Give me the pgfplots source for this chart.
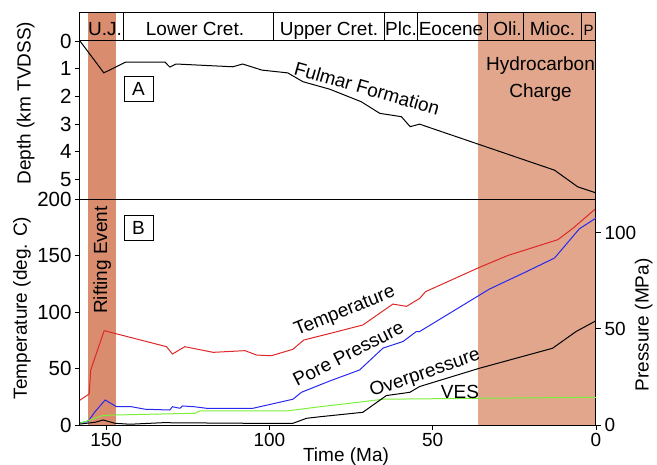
\documentclass[border=0pt]{standalone}
\usepackage{fontspec}
\setmainfont{Liberation Sans}
\usepackage{pgfplots}
\pgfplotsset{compat=1.18}

\definecolor{rift}{RGB}{217,140,110}
\definecolor{hcc}{RGB}{225,166,140}
\definecolor{tempred}{RGB}{222,40,40}
\definecolor{poreblue}{RGB}{40,40,240}
\definecolor{vesgreen}{RGB}{125,240,60}

\newcommand{\lab}{\fontsize{19}{21}\selectfont}
\newcommand{\tck}{\fontsize{20.5}{22}\selectfont}
\newcommand{\tckb}{\fontsize{19}{21}\selectfont}

\begin{document}
\begin{tikzpicture}
\pgfplotsset{
  every axis/.append style={
    scale only axis, x dir=reverse, xmin=0, xmax=158,
    axis line style={line width=1pt},
    tick style={line width=0.8pt, black},
    tick align=outside, major tick length=5pt,
    /pgf/number format/assume math mode=true,
    tick label style={font=\tck},
  },
}

% ---------- panel A: burial depth ----------
\begin{axis}[at={(80pt,-199pt)}, anchor=south west, width=516pt, height=186pt,
  ymin=-1.01, ymax=5.70, y dir=reverse, ytick={0,...,5},
  xtick=\empty, ytick pos=left, axis on top]
\addplot[fill=rift, draw=none] coordinates {(155.6,-1.01) (147,-1.01) (147,5.7) (155.6,5.7)} -- cycle;
\addplot[fill=hcc, draw=none] coordinates {(36,-1.01) (0,-1.01) (0,5.7) (36,5.7)} -- cycle;
% chronostratigraphic strip
\addplot[black, line width=1pt] coordinates {(158,0) (0,0)};
\pgfplotsinvokeforeach{144.8,98.9,64.9,54.8,33.1,22.1,4.6}{
  \addplot[black, line width=0.8pt] coordinates {(#1,-1.01) (#1,0)};
}
% Fulmar Formation burial curve
\addplot[black, line width=1pt] coordinates {
(158,0) (150.7,1.15) (144,0.76) (132,0.76) (130.5,0.94) (128.6,0.83)
(111.2,0.93) (108.2,0.83) (102.3,1.05) (94.4,1.15) (89.7,1.47) (81.5,1.74)
(71.9,2.19) (66.2,2.61) (59.6,2.73) (56.9,3.09) (54,3.0) (12.7,4.66)
(5.6,5.26) (0,5.48)};
\end{axis}

% ---------- panel B: temperature ----------
\begin{axis}[at={(80pt,-425pt)}, anchor=south west, width=516pt, height=226pt,
  ymin=0, ymax=200, ytick={0,50,...,200}, xtick={150,100,50,0},
  ytick pos=left, xtick pos=bottom, axis on top,
  x tick label style={font=\tckb}]
\addplot[fill=rift, draw=none] coordinates {(155.6,0) (147,0) (147,200) (155.6,200)} -- cycle;
\addplot[fill=hcc, draw=none] coordinates {(36,0) (0,0) (0,200) (36,200)} -- cycle;
\addplot[tempred, line width=1pt] coordinates {
(158,22) (155.2,27.4) (154.7,48.7) (150.6,83.5) (131.5,69.3) (129.7,62.8)
(125.9,69.3) (117.2,64.3) (107.5,65.8) (103.9,61.9) (99.4,61.3) (92.8,67)
(89.5,75.2) (81.5,81) (71.4,88.5) (62.2,107) (58,105) (54,112) (52.2,118)
(35.7,139.5) (27,150) (11.7,164) (7.1,174) (0,191.7)};
\end{axis}

% ---------- panel B: pressures ----------
\begin{axis}[at={(80pt,-425pt)}, anchor=south west, width=516pt, height=226pt,
  ymin=0, ymax=117.5, ytick={0,50,100},
  axis y line*=right, axis x line=none,
  y tick label style={font=\tckb}]
\addplot[poreblue, line width=1pt] coordinates {
(158,1.2) (155.6,1.7) (153.4,6.9) (150.3,13) (146.8,9.5) (142.2,9.5)
(138.1,8.2) (130.5,7.8) (129.7,9.5) (127.4,8.7) (126.6,9.9) (123,9.5)
(119.3,8.7) (105,8.7) (92.8,13.4) (90.2,17) (81.5,22.9) (72.4,28.6)
(65.2,40) (59.1,43.4) (55,48.6) (54,48.6) (32.6,70.7) (22.2,79)
(12.7,86.8) (5.1,102) (0,107.6)};
\addplot[vesgreen, line width=1pt] coordinates {
(158,0.9) (151,4.9) (147.3,5.2) (122.8,6.1) (121.3,7.3) (94.7,7.3)
(84.5,9.5) (71.4,12.1) (65.2,13.4) (35.7,13.9) (0,14.4)};
\addplot[black, line width=1pt] coordinates {
(158,0.5) (153.4,1.4) (150.9,2.6) (147.3,0.9) (142.7,0.4) (132.6,1.2)
(107,0.9) (92.8,0.9) (88.6,3.5) (84.5,4.3) (71.4,6.6) (64.2,15.3)
(57,17) (54,20) (35.7,29.5) (13.3,39.9) (6.1,48.6) (0,54.2)};
\end{axis}

% ---------- text ----------
\begin{scope}[every node/.style={font=\lab, inner sep=0pt}]
\node[anchor=base] at (105pt,-35pt) {U.J.};
\node[anchor=base] at (195pt,-35pt) {Lower Cret.};
\node[anchor=base] at (329pt,-35pt) {Upper Cret.};
\node[anchor=base] at (401pt,-35pt) {Plc.};
\node[anchor=base] at (451pt,-35pt) {Eocene};
\node[anchor=base] at (507.5pt,-35pt) {Oli.};
\node[anchor=base] at (552.5pt,-35pt) {Mioc.};
\node[anchor=base, font=\fontsize{15}{17}\selectfont] at (588.5pt,-35pt) {P};

\node[draw, line width=0.8pt, minimum width=29pt, minimum height=25pt] at (138.5pt,-88.5pt) {A};
\node[draw, line width=0.8pt, minimum width=29pt, minimum height=25pt] at (138.5pt,-228pt) {B};

\node[anchor=base west, rotate=-16] at (293pt,-74pt) {Fulmar Formation};
\node[anchor=base] at (540.5pt,-70pt) {Hydrocarbon};
\node[anchor=base] at (540.5pt,-97pt) {Charge};
\node[anchor=base, rotate=90] at (107pt,-260pt) {Rifting Event};

\node[anchor=base west, rotate=22] at (297pt,-336pt) {Temperature};
\node[anchor=base west, rotate=27] at (297pt,-387pt) {Pore Pressure};
\node[anchor=base west, rotate=19] at (372pt,-397pt) {Overpressure};
\node[anchor=base] at (460pt,-398pt) {VES};

\node[anchor=base, rotate=90] at (30.6pt,-103pt) {Depth (km TVDSS)};
\node[anchor=base, rotate=90] at (27pt,-308pt) {Temperature (deg. C)};
\node[anchor=base, rotate=90] at (648.6pt,-325pt) {Pressure (MPa)};
\node[anchor=base] at (346pt,-461.6pt) {Time (Ma)};
\end{scope}

\pgfresetboundingbox
\path[use as bounding box] (0pt,0pt) rectangle (657pt,-464pt);
\end{tikzpicture}
\end{document}
